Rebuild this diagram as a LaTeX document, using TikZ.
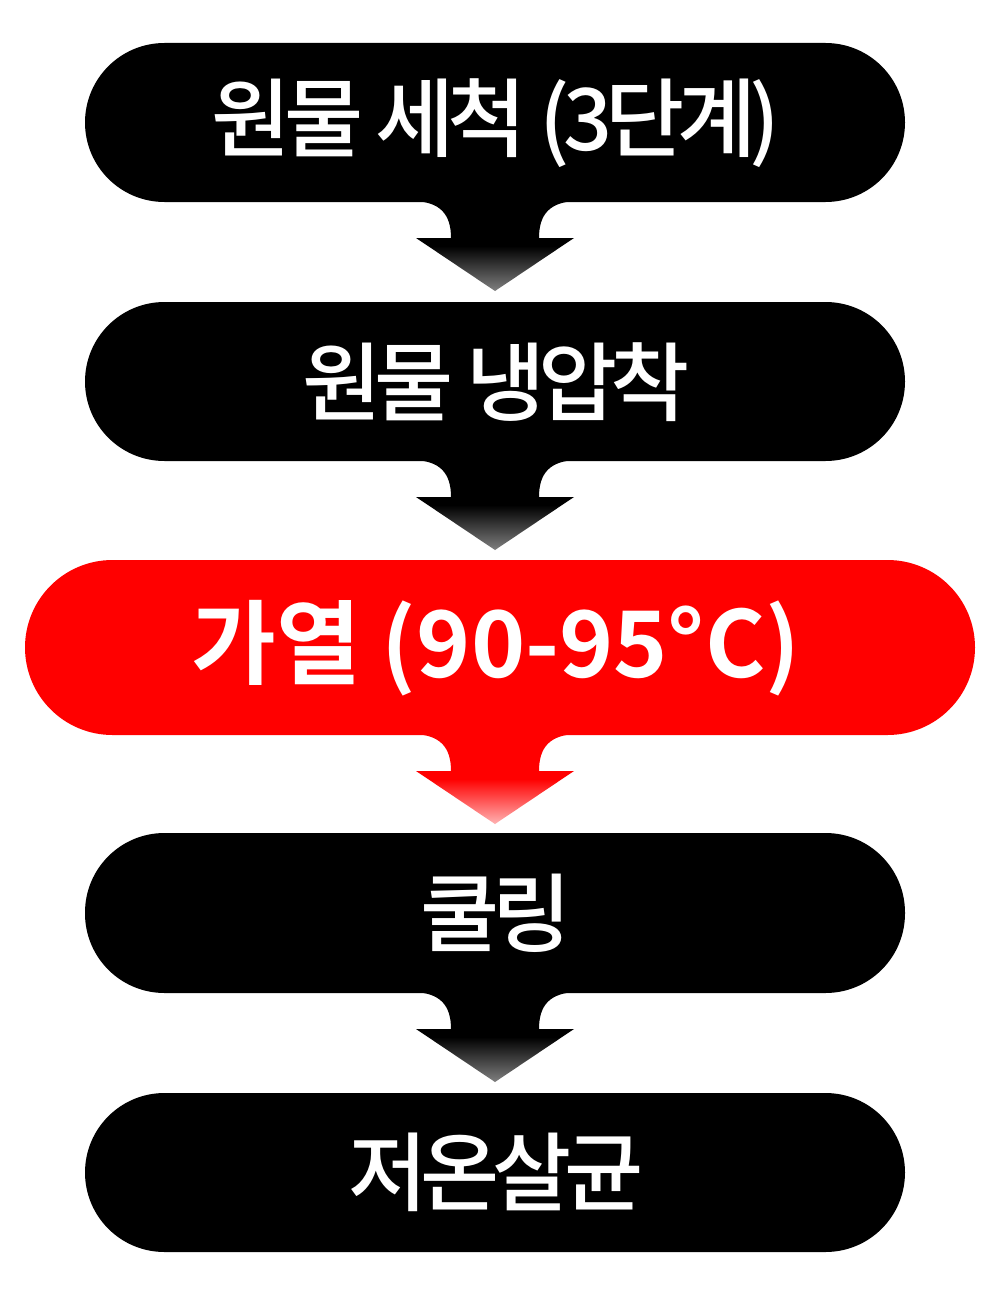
\documentclass[tikz,border=0pt]{standalone}
\usepackage{fontspec}
\newfontfamily\kr{Noto Sans CJK KR Medium}[LetterSpace=-8]
\newfontfamily\krb{Noto Sans CJK KR Bold}[LetterSpace=0]
\usetikzlibrary{shadings}
\definecolor{myred}{RGB}{255,0,0}
\tikzset{
  lbl/.style={text=white, font=\kr\fontsize{86}{86}\selectfont, anchor=center, inner sep=0pt},
  blackarrow/.style={top color=black, bottom color=black!50, middle color=black},
  redarrow/.style={top color=myred, bottom color=myred!30, middle color=myred},
}
\newcommand{\flowarrow}[3]{% #1 = top y, #2 = style, #3 = name
  \path[#2] (414,#1-1) .. controls (440,#1) and (451,#1+12) .. (451,#1+36)
    -- (416,#1+36) -- (495,#1+89) -- (574,#1+36) -- (539,#1+36)
    .. controls (539,#1+12) and (550,#1) .. (576,#1-1) -- cycle;
  \coordinate (#3) at (495,#1+89);
}
\begin{document}
\begin{tikzpicture}[x=1pt,y=-1pt]
\useasboundingbox (0,0) rectangle (1000,1300);
\fill[white] (0,0) rectangle (1000,1300);
% boxes
\fill[black, rounded corners=79.5pt] (85,43) rectangle (905,202);
\node[lbl] (t1) at (496,123) {원물 세척 (3단계)};
\fill[black, rounded corners=79.5pt] (85,302) rectangle (905,461);
\node[lbl] (t2) at (496,382) {원물 냉압착};
\fill[myred, rounded corners=87.5pt] (25,560) rectangle (975,735);
\node[lbl, font=\krb\fontsize{92}{92}\selectfont] (t3) at (496,648) {가열 (90-95°C)};
\fill[black, rounded corners=79.5pt] (85,833) rectangle (905,993);
\node[lbl] (t4) at (496,913) {쿨링};
\fill[black, rounded corners=79.5pt] (85,1093) rectangle (905,1252);
\node[lbl] (t5) at (496,1172) {저온살균};
% arrows
\flowarrow{202}{blackarrow}{a1}
\flowarrow{461}{blackarrow}{a2}
\flowarrow{735}{redarrow}{a3}
\flowarrow{993}{blackarrow}{a4}
\end{tikzpicture}
\end{document}
